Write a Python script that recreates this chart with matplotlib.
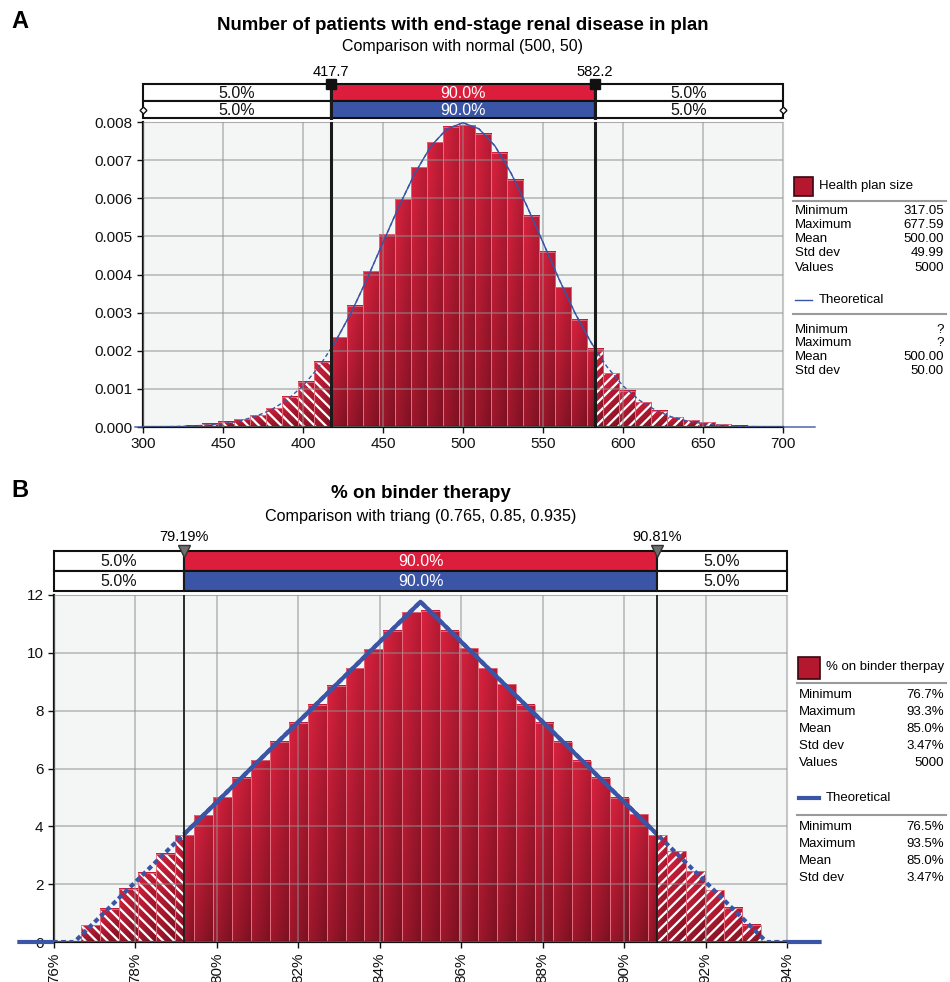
import numpy as np
import matplotlib.pyplot as plt
from matplotlib.patches import Rectangle
from matplotlib.lines import Line2D
from matplotlib.colors import to_rgb

plt.rcParams['font.family'] = ['Liberation Sans', 'DejaVu Sans']
plt.rcParams['hatch.linewidth'] = 1.6

# ---------------- panel A data ----------------
a_min, a_max = 317.05, 677.59
a_density = [0.00002, 0.00003, 0.00008, 0.00014, 0.00020, 0.00031, 0.00049, 0.00080,
             0.00119, 0.00171, 0.00235, 0.00318, 0.00408, 0.00506, 0.00598, 0.00681,
             0.00747, 0.00787, 0.00792, 0.00769, 0.00720, 0.00648, 0.00554, 0.00460,
             0.00366, 0.00281, 0.00205, 0.00141, 0.00095, 0.00065, 0.00042, 0.00026,
             0.00018, 0.00012, 0.00007, 0.00003]
a_lo, a_hi = 417.7, 582.2
a_theo_x = [295, 300, 310, 320, 330, 340, 350, 360, 370, 380, 390, 400, 410, 420, 430,
            440, 450, 460, 470, 480, 490, 500, 510, 520, 530, 540, 550, 560, 570, 580,
            590, 600, 610, 620, 630, 640, 650, 660, 670, 680, 690, 700, 720]
a_theo_y = [0.0, 0.0, 0.000006, 0.000012, 0.000025, 0.000048, 0.000089, 0.000158,
            0.000271, 0.000448, 0.000709, 0.00108, 0.00158, 0.00222, 0.00299, 0.00388,
            0.00484, 0.00579, 0.00666, 0.00737, 0.00782, 0.00798, 0.00782, 0.00737,
            0.00666, 0.00579, 0.00484, 0.00388, 0.00299, 0.00222, 0.00158, 0.00108,
            0.000709, 0.000448, 0.000271, 0.000158, 0.000089, 0.000048, 0.000025,
            0.000012, 0.000006, 0.0, 0.0]
a_xticks = [300, 350, 400, 450, 500, 550, 600, 650, 700]
a_xlabels = ['300', '450', '400', '450', '500', '550', '600', '650', '700']
a_yticks = [0, 0.001, 0.002, 0.003, 0.004, 0.005, 0.006, 0.007, 0.008]
a_ylabels = ['0.000', '0.001', '0.002', '0.003', '0.004', '0.005', '0.006', '0.007', '0.008']
a_pct = ['5.0%', '90.0%', '5.0%']
a_name = 'Health plan size'
a_stat_names = ['Minimum', 'Maximum', 'Mean', 'Std dev', 'Values']
a_stat_vals = ['317.05', '677.59', '500.00', '49.99', '5000']
a_theo_vals = ['?', '?', '500.00', '50.00']

# ---------------- panel B data ----------------
b_min, b_max = 0.7666, 0.9337
b_density = [0.58, 1.15, 1.85, 2.39, 3.06, 3.69, 4.38, 5.00, 5.68, 6.29, 6.92, 7.58,
             8.21, 8.86, 9.46, 10.12, 10.76, 11.40, 11.45, 10.76, 10.15, 9.46, 8.91, 8.21,
             7.58, 6.92, 6.26, 5.68, 4.98, 4.42, 3.69, 3.14, 2.45, 1.79, 1.18, 0.60]
b_lo, b_hi = 0.7919, 0.9081
b_theo_x = [0.7515, 0.765, 0.85, 0.935, 0.948]
b_theo_y = [0, 0, 11.765, 0, 0]
b_xticks = [0.76, 0.78, 0.80, 0.82, 0.84, 0.86, 0.88, 0.90, 0.92, 0.94]
b_xlabels = ['76%', '78%', '80%', '82%', '84%', '86%', '88%', '90%', '92%', '94%']
b_yticks = [0, 2, 4, 6, 8, 10, 12]
b_pct = ['5.0%', '90.0%', '5.0%']
b_name = '% on binder therpay'
b_stat_vals = ['76.7%', '93.3%', '85.0%', '3.47%', '5000']
b_theo_vals = ['76.5%', '93.5%', '85.0%', '3.47%']

RED = '#dc1e3c'
BLUE = '#3a55a5'
W, H = 950, 982


def fx(px):
    return px / W


def fy(py):
    return 1 - py / H


def bar_gradient(n=24):
    bright = np.array(to_rgb('#d9223f'))
    dark = np.array(to_rgb('#7c1121'))
    yy, xx = np.mgrid[0:1:n * 1j, 0:1:n * 1j]
    t = 0.6 * (1 - yy) + 0.4 * xx
    return bright * (1 - t)[..., None] + dark * t[..., None]


GRAD = bar_gradient()


def draw_hist(ax, edges, heights, lo, hi):
    for a, b, h in zip(edges[:-1], edges[1:], heights):
        parts = []
        if a < lo:
            parts.append((a, min(b, lo), '\\\\\\'))
        if b > lo and a < hi:
            parts.append((max(a, lo), min(b, hi), None))
        if b > hi:
            parts.append((max(a, hi), b, '///'))
        for x0, x1, hatch in parts:
            ax.imshow(GRAD, extent=(x0, x1, 0, h), origin='lower', aspect='auto',
                      interpolation='bilinear', zorder=2)
            if hatch:
                ax.bar(x0, h, width=x1 - x0, align='edge', facecolor='none',
                       edgecolor='white', hatch=hatch, linewidth=0, zorder=2.1)
            ax.bar(x0, h, width=x1 - x0, align='edge', facecolor='none',
                   edgecolor='#e3707f', linewidth=0.6, zorder=2.2)


def style_axes(ax):
    ax.set_facecolor('#f4f6f6')
    ax.set_axisbelow(False)
    ax.grid(True, color='#8f8f8f', alpha=0.5, lw=1.4)
    for s in ['top', 'right']:
        ax.spines[s].set_color('#c8c8c8')
    for s in ['left', 'bottom']:
        ax.spines[s].set_color('#111111')
        ax.spines[s].set_linewidth(1.6)
    ax.tick_params(length=4, width=1, labelsize=11, colors='#111111')


def draw_theo(ax, xs, ys, lo, hi, lw, dash):
    ax.plot(xs, ys, color=BLUE, lw=lw, ls=(0, dash), zorder=5)
    solid = ax.plot(xs, ys, color=BLUE, lw=lw, zorder=5)[0]
    solid.set_clip_path(Rectangle((lo, -100), hi - lo, 1000, transform=ax.transData))
    for x0 in (-1, 1):
        out = ax.plot(xs, ys, color=BLUE, lw=lw, zorder=5)[0]
        out.set_clip_path(Rectangle((x0, -1), 1, 3, transform=ax.transAxes))


def draw_boxes(bx, xlim, lo, hi, labels, lw):
    bx.set_xlim(*xlim)
    bx.set_ylim(0, 2)
    bx.axis('off')
    for row, col in [(1, RED), (0, BLUE)]:
        segs = [(xlim[0], lo, 'white'), (lo, hi, col), (hi, xlim[1], 'white')]
        for (x0, x1, fc), lab in zip(segs, labels):
            bx.add_patch(Rectangle((x0, row), x1 - x0, 1, fc=fc, ec='#111111', lw=lw,
                                   clip_on=False))
            bx.text((x0 + x1) / 2, row + 0.45, lab, ha='center', va='center', fontsize=11.5,
                    color='white' if fc != 'white' else '#111111')


def draw_legend(x0, y_head, name, vals, y_rows, theo_y, theo_lw, theo_vals, y_trows,
                sep1, sep2, sq):
    fig.add_artist(Rectangle((fx(x0), fy(sq[1])), sq[0] / W, sq[0] / H,
                             fc='#b3182f', ec='#3a0610', lw=1.2))
    fig.text(fx(x0 + sq[0] + 6), fy(y_head), name, fontsize=9.5, va='center')
    fig.add_artist(Line2D([fx(x0 - 1), fx(946)], [fy(sep1)] * 2, color='#9a9a9a', lw=1.5))
    for n, v, y in zip(a_stat_names, vals, y_rows):
        fig.text(fx(x0 + 1), fy(y), n, fontsize=9.5, va='center')
        fig.text(fx(944), fy(y), v, fontsize=9.5, va='center', ha='right')
    fig.add_artist(Line2D([fx(x0 + 1), fx(x0 + sq[0] - 1)], [fy(theo_y)] * 2, color=BLUE,
                          lw=theo_lw))
    fig.text(fx(x0 + sq[0] + 6), fy(theo_y), 'Theoretical', fontsize=9.5, va='center')
    fig.add_artist(Line2D([fx(x0 - 1), fx(946)], [fy(sep2)] * 2, color='#9a9a9a', lw=1.5))
    for n, v, y in zip(a_stat_names, theo_vals, y_trows):
        fig.text(fx(x0 + 1), fy(y), n, fontsize=9.5, va='center')
        fig.text(fx(944), fy(y), v, fontsize=9.5, va='center', ha='right')


fig = plt.figure(figsize=(9.5, 9.82), dpi=100)

# ---------------- panel A ----------------
ax_a = fig.add_axes([fx(143), fy(427), 640 / W, 305 / H])
box_a = fig.add_axes([fx(143), fy(118), 640 / W, 34 / H])
style_axes(ax_a)
a_edges = np.linspace(a_min, a_max, len(a_density) + 1)
draw_hist(ax_a, a_edges, a_density, a_lo, a_hi)
draw_theo(ax_a, a_theo_x, a_theo_y, a_lo, a_hi, 1.0, (3, 2))
for v in (a_lo, a_hi):
    ax_a.axvline(v, color='#1a1a1a', lw=2.2, zorder=6)
ax_a.set_xlim(300, 700)
ax_a.set_ylim(0, 0.008)
ax_a.set_xticks(a_xticks, a_xlabels)
ax_a.set_yticks(a_yticks, a_ylabels)

draw_boxes(box_a, (300, 700), a_lo, a_hi, a_pct, 1.5)
for v in (a_lo, a_hi):
    box_a.axvline(v, color='#1a1a1a', lw=2.2, clip_on=False)
box_a.plot([a_lo, a_hi], [2, 2], 's', ms=7, color='#111111', clip_on=False, zorder=6)
box_a.plot([300, 700], [0.5, 0.5], 'D', ms=3.5, mfc='white', mec='#111111', clip_on=False,
           zorder=6)
for v in (a_lo, a_hi):
    box_a.annotate(f'{v:.1f}', (v, 2), xytext=(0, 9), textcoords='offset points',
                   ha='center', va='center', fontsize=10.5)

fig.text(fx(463), fy(25), 'Number of patients with end-stage renal disease in plan',
         ha='center', va='center', fontsize=13.4, fontweight='bold')
fig.text(fx(463), fy(46), 'Comparison with normal (500, 50)', ha='center', va='center',
         fontsize=11.5)
fig.text(fx(11), fy(21), 'A', fontsize=17, fontweight='bold', va='center')

draw_legend(794, 186, a_name, a_stat_vals, [211, 225, 239, 253, 268], 300, 1.0,
            a_theo_vals, [330, 343, 357, 371], 201, 314, (19, 196))

# ---------------- panel B ----------------
ax_b = fig.add_axes([fx(54), fy(942), 733 / W, 347 / H])
box_b = fig.add_axes([fx(54), fy(591), 733 / W, 40 / H])
style_axes(ax_b)
b_edges = np.linspace(b_min, b_max, len(b_density) + 1)
draw_hist(ax_b, b_edges, b_density, b_lo, b_hi)
draw_theo(ax_b, b_theo_x, b_theo_y, b_lo, b_hi, 3.0, (1.2, 0.8))
for v in (b_lo, b_hi):
    ax_b.axvline(v, color='#1a1a1a', lw=1.3, zorder=6)
ax_b.set_xlim(0.76, 0.94)
ax_b.set_ylim(0, 12)
ax_b.set_xticks(b_xticks, b_xlabels, rotation=90)
ax_b.set_yticks(b_yticks)

draw_boxes(box_b, (0.76, 0.94), b_lo, b_hi, b_pct, 1.5)
for v in (b_lo, b_hi):
    box_b.axvline(v, color='#1a1a1a', lw=1.3, clip_on=False)
box_b.plot([b_lo, b_hi], [2, 2], 'v', ms=9, color='#6e6e6e', mec='#333333', clip_on=False,
           zorder=6)
for v in (b_lo, b_hi):
    box_b.annotate(f'{v * 100:.2f}%', (v, 2), xytext=(0, 10), textcoords='offset points',
                   ha='center', va='center', fontsize=10.5)

fig.text(fx(421), fy(493), '% on binder therapy', ha='center', va='center', fontsize=13.5,
         fontweight='bold')
fig.text(fx(421), fy(517), 'Comparison with triang (0.765, 0.85, 0.935)', ha='center',
         va='center', fontsize=11.6)
fig.text(fx(11), fy(490), 'B', fontsize=17, fontweight='bold', va='center')

draw_legend(798, 667, b_name, b_stat_vals, [695, 712, 729, 746, 763], 798, 3.0,
            b_theo_vals, [827, 844, 861, 878], 683, 815, (22, 679))

fig.savefig('out.png', dpi=100)
